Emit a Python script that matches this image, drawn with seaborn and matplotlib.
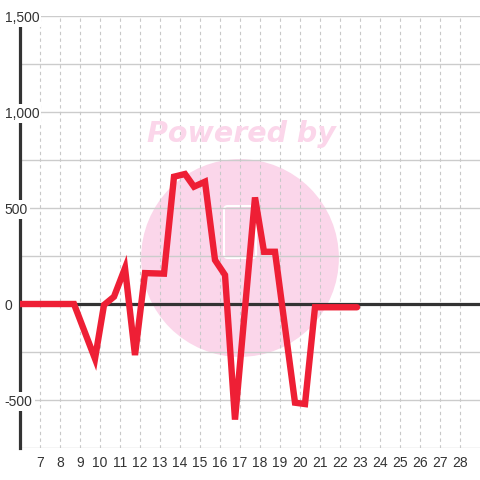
import numpy as np
import pandas as pd
import matplotlib
matplotlib.use("Agg")
import matplotlib.pyplot as plt
import seaborn as sns
from matplotlib.patches import Circle, FancyBboxPatch

# values
x_vals = [6.0, 8.7, 9.75, 10.2, 10.7, 11.25, 11.75, 12.25, 13.2, 13.7, 14.25, 14.7,
          15.25, 15.75, 16.25, 16.75, 17.75, 18.2, 18.75, 19.75, 20.25, 20.75, 22.85]
y_vals = [0, 0, -285, -5, 38, 187, -266, 161, 158, 663, 677, 611,
          637, 229, 151, -602, 555, 272, 272, -514, -521, -17, -17]
x_ticks = list(range(7, 29))
y_ticks = [-500, 0, 500, 1000, 1500]
y_labels = ["-500", "0", "500", "1,000", "1,500"]
grid_levels = list(range(-750, 1501, 250))

df = pd.DataFrame({"x": x_vals, "y": y_vals})

sns.set_style("white")
plt.rcParams["font.family"] = ["Liberation Sans", "DejaVu Sans"]

fig = plt.figure(figsize=(4.8, 4.8), dpi=100)
ax = fig.add_axes([20 / 480, 32 / 480, 460 / 480, 432 / 480])

# watermark
ax.add_patch(Circle((0.5, 0.4625), 0.206, transform=fig.transFigure,
                    facecolor="#fbd6ea", edgecolor="none", zorder=0.3))
ax.add_patch(FancyBboxPatch((224 / 480, 1 - 258 / 480), 32 / 480, 52 / 480,
                            boxstyle="round,pad=0,rounding_size=0.008",
                            transform=fig.transFigure, facecolor="none",
                            edgecolor="white", lw=1.5, zorder=0.35))
fig.text(0.502, 1 - 134 / 480, "Powered by", color="#fbd6ea", fontsize=20.5,
         fontweight="heavy", fontstyle="italic", family="DejaVu Sans",
         ha="center", va="center", zorder=0)

ax.grid(False)
for v in grid_levels:
    ax.axhline(v, color="#cccccc", lw=1, zorder=0.6)
for v in x_ticks:
    ax.axvline(v, color="#c8c8c8", lw=0.8, ls=(0, (3, 3)), zorder=0.6)
ax.axhline(0, color="#333333", lw=2.3, zorder=1)

sns.lineplot(data=df, x="x", y="y", ax=ax, color="#ee1f35", lw=4.6,
             zorder=2, solid_joinstyle="miter")

ax.set_xlim(6, 29)
ax.set_ylim(-750, 1500)
ax.set_xticks(x_ticks)
ax.set_yticks(y_ticks, y_labels)
ax.set_xlabel("")
ax.set_ylabel("")

for s in ["top", "right", "bottom"]:
    ax.spines[s].set_visible(False)
ax.spines["left"].set_color("#333333")
ax.spines["left"].set_linewidth(2.3)
ax.spines["left"].set_zorder(1.2)
ax.spines["left"].set_bounds(-750, 1458)

ax.tick_params(axis="x", length=0, pad=6, labelsize=10, labelcolor="#333333")
ax.tick_params(axis="y", length=0, pad=11, labelsize=10, labelcolor="#333333")
for lab in ax.get_yticklabels():
    lab.set_horizontalalignment("left")
    lab.set_bbox(dict(facecolor="white", edgecolor="none", pad=1.5))
ax.yaxis.set_zorder(3)

fig.savefig("out.png", dpi=100)
